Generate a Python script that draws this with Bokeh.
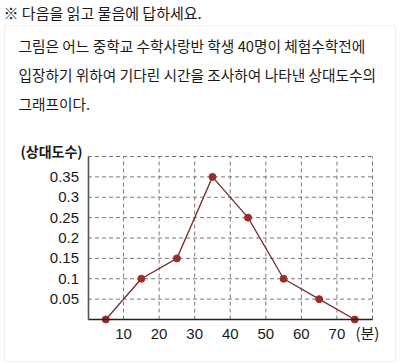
from bokeh.plotting import figure
from bokeh.models import Range1d, FixedTicker, Label, BoxAnnotation, ColumnDataSource, LinearAxis
from bokeh.embed import file_html
from bokeh.resources import INLINE

# data
minutes = [5, 15, 25, 35, 45, 55, 65, 75]
rel_freq = [0, 0.1, 0.15, 0.35, 0.25, 0.1, 0.05, 0]
x_ticks = [10, 20, 30, 40, 50, 60, 70]
y_ticks = [0.05, 0.1, 0.15, 0.2, 0.25, 0.3, 0.35]
x_grid = [10, 20, 30, 40, 50, 60, 70, 80]
y_grid = [0.05, 0.1, 0.15, 0.2, 0.25, 0.3, 0.35, 0.4]
y_labels = {0.05: "0.05", 0.1: "0.1", 0.15: "0.15", 0.2: "0.2", 0.25: "0.25", 0.3: "0.3", 0.35: "0.35"}

header = "※ 다음을 읽고 물음에 답하세요."
body = ["그림은 어느 중학교 수학사랑반 학생 40명이 체험수학전에",
        "입장하기 위하여 기다린 시간을 조사하여 나타낸 상대도수의",
        "그래프이다."]
ylabel = "(상대도수)"
xunit = "(분)"

KR = "Noto Sans CJK KR"
NUM = "Liberation Sans"

# frame covers the whole canvas; chart area (0..80, 0..0.4) placed via ranges
X0, PXX = 87.5, 284.5 / 80.0     # px of x=0, px per minute
Y0, PXY = 319.0, 163.0 / 0.4     # px of y=0 from top, px per unit
W, H = 400, 363
p = figure(width=W, height=H, output_backend="svg", toolbar_location=None,
           x_range=Range1d(-X0 / PXX, (W - X0) / PXX),
           y_range=Range1d(-(H - Y0) / PXY, Y0 / PXY),
           x_axis_location=None, y_axis_location=None,
           min_border=0)
p.outline_line_color = None
p.grid.visible = False
p.background_fill_color = "white"
p.border_fill_color = "white"

xmax, ymax = max(x_grid), max(y_grid)

# dashed grid, limited to the chart area
p.segment(x0=x_grid, y0=[0] * len(x_grid), x1=x_grid, y1=[ymax] * len(x_grid),
          line_color="#7a7a7a", line_dash="4 3", line_width=1)
p.segment(x0=[0] * len(y_grid), y0=y_grid, x1=[xmax] * len(y_grid), y1=y_grid,
          line_color="#7a7a7a", line_dash="4 3", line_width=1)

# axes
xa = LinearAxis(fixed_location=0, bounds=(0, xmax), ticker=FixedTicker(ticks=x_ticks))
ya = LinearAxis(fixed_location=0, bounds=(0, ymax), ticker=FixedTicker(ticks=y_ticks),
                major_label_overrides=y_labels)
for ax in (xa, ya):
    ax.major_tick_line_color = None
    ax.minor_tick_line_color = None
    ax.major_label_text_font = NUM
    ax.major_label_text_font_size = "15px"
    ax.major_label_text_color = "#1a1a1a"
    ax.axis_line_width = 1.6
ya.axis_line_color = "#555555"
xa.axis_line_color = "#222222"
ya.major_label_standoff = 3
xa.major_label_standoff = 3
p.add_layout(xa, "below")
p.add_layout(ya, "left")

src = ColumnDataSource(dict(x=minutes, y=rel_freq))
p.line("x", "y", source=src, line_color="#7a2e2e", line_width=1.3)
p.scatter("x", "y", source=src, size=7, fill_color="#9b2c2c", line_color="#9b2c2c")

# outer box
p.add_layout(BoxAnnotation(left=4, right=395, top=25, bottom=361,
                           left_units="canvas", right_units="canvas",
                           top_units="canvas", bottom_units="canvas",
                           fill_color=None, line_color="#cccccc", line_width=1.2))

p.add_layout(Label(x=3, y=12, x_units="canvas", y_units="canvas", text=header,
                   text_font=KR, text_font_size="15px", text_baseline="middle",
                   text_color="#1a1a1a"))
for i, line in enumerate(body):
    p.add_layout(Label(x=18, y=45 + 29 * i, x_units="canvas", y_units="canvas", text=line,
                       text_font=KR, text_font_size="14.7px", text_baseline="middle",
                       text_color="#1a1a1a"))
p.add_layout(Label(x=20, y=150, x_units="canvas", y_units="canvas", text=ylabel,
                   text_font=KR, text_font_size="14px", text_font_style="bold",
                   text_baseline="middle", text_color="#1a1a1a"))
p.add_layout(Label(x=355, y=332, x_units="canvas", y_units="canvas", text=xunit,
                   text_font=KR, text_font_size="15px",
                   text_baseline="middle", text_color="#1a1a1a"))

open("out.html", "w").write(file_html(p, INLINE))
